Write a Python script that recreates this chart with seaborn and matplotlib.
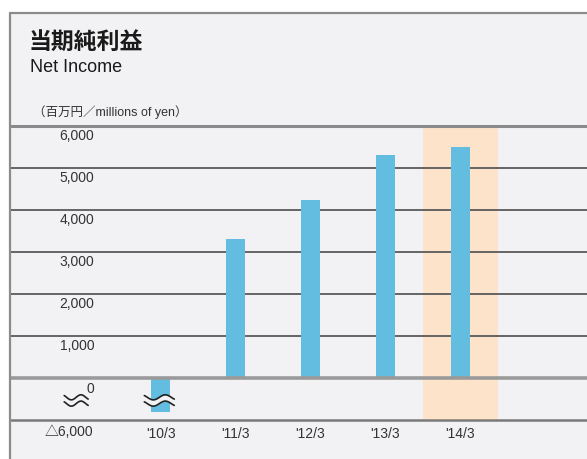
import numpy as np
import seaborn as sns
import pandas as pd
import matplotlib.pyplot as plt
from matplotlib.lines import Line2D

years = ["'10/3", "'11/3", "'12/3", "'13/3", "'14/3"]
net_income = [-5800, 3310, 4240, 5310, 5500]
y_ticks = [1000, 2000, 3000, 4000, 5000, 6000]
y_tick_labels = ["1,000", "2,000", "3,000", "4,000", "5,000", "6,000"]
break_label = "△6,000"
highlight_year = "'14/3"

bg = "#f2f2f4"
bar_color = "#63bde0"
band_color = "#fde3c9"
fonts = ["Liberation Sans", "Noto Sans CJK JP", "DejaVu Sans"]

sns.set_theme(style="white")
plt.rcParams["font.family"] = fonts

# lower segment: -6000 sits on the bottom line (-1000 on the display scale)
def to_display(v):
    return v if v >= 0 else -1000 + (v + 6000)

df = pd.DataFrame({"year": years, "value": [to_display(v) for v in net_income]})

fig = plt.figure(figsize=(5.87, 4.59), dpi=100)
fig.patch.set_facecolor("white")
fig.patches.append(plt.Rectangle((10 / 587, 0), 1, 1 - 13 / 459, transform=fig.transFigure,
                                 facecolor=bg, edgecolor="none", zorder=-10))
fig.add_artist(Line2D([10 / 587, 10 / 587], [0, 1 - 13 / 459], color="#8c8c8c", lw=1.6))
fig.add_artist(Line2D([10 / 587, 1], [1 - 13 / 459, 1 - 13 / 459], color="#8c8c8c", lw=1.6))

ax = fig.add_axes([11 / 587, 39 / 459, 576 / 587, 294 / 459])
ax.set_facecolor("none")

hi = years.index(highlight_year)
ax.axvspan(hi - 0.5, hi + 0.5, color=band_color, zorder=0, lw=0)

sns.barplot(data=df, x="year", y="value", color=bar_color, width=0.25,
            saturation=1, linewidth=0, edgecolor=bar_color, ax=ax, zorder=2)

ax.set_xlim(-2.0, 5.69)
ax.set_ylim(-1000, 6000)

for t in y_ticks[:-1]:
    ax.axhline(t, color="#5a5a5a", lw=1.3, zorder=1)
ax.axhline(6000, color="#8a8a8a", lw=2.2, zorder=3, clip_on=False)
ax.axhline(0, color="#9a9a9a", lw=2.6, zorder=3)
ax.axhline(-1000, color="#7a7a7a", lw=1.8, zorder=3, clip_on=False)

for t, lab in zip(y_ticks, y_tick_labels):
    ax.annotate(lab, xy=(-0.89, t), xytext=(0, -7), textcoords="offset points",
                ha="right", va="center", fontsize=10, color="#333333")
ax.annotate("0", xy=(-0.89, 0), xytext=(0, -8), textcoords="offset points",
            ha="right", va="center", fontsize=10, color="#333333")
ax.annotate(break_label, xy=(-1.23, -1000), xytext=(0, -9), textcoords="offset points",
            ha="center", va="center", fontsize=10, color="#333333")

# wavy break marks
def wave(xc, half_w, yc):
    xs = np.linspace(xc - half_w, xc + half_w, 60)
    ph = (xs - xc) / half_w * np.pi * 1.25
    y1 = yc + 70 + 60 * np.sin(ph)
    y2 = yc - 80 + 60 * np.sin(ph)
    ax.fill_between(xs, y2, y1, color=bg, zorder=4, lw=0)
    ax.plot(xs, y1, color="#222222", lw=1.2, zorder=5)
    ax.plot(xs, y2, color="#222222", lw=1.2, zorder=5)

wave(-1.13, 0.16, -530)
wave(-0.02, 0.2, -530)

ax.set_xticks(range(len(years)))
ax.set_xticklabels(years, fontsize=10, color="#333333")
ax.tick_params(axis="x", length=0, pad=5)
ax.set_yticks([])
ax.set_xlabel("")
ax.set_ylabel("")
sns.despine(ax=ax, left=True, bottom=True, top=True, right=True)

fig.text(29 / 587, 1 - 42 / 459, "当期純利益", fontsize=16.5, fontweight="bold",
         family=["Noto Sans CJK JP"], color="#1a1a1a", va="center")
fig.text(30 / 587, 1 - 67 / 459, "Net Income", fontsize=13, color="#1a1a1a", va="center")
fig.text(33 / 587, 1 - 112 / 459, "（百万円／millions of yen）", fontsize=9,
         color="#333333", va="center")

fig.savefig("out.png", dpi=100)
